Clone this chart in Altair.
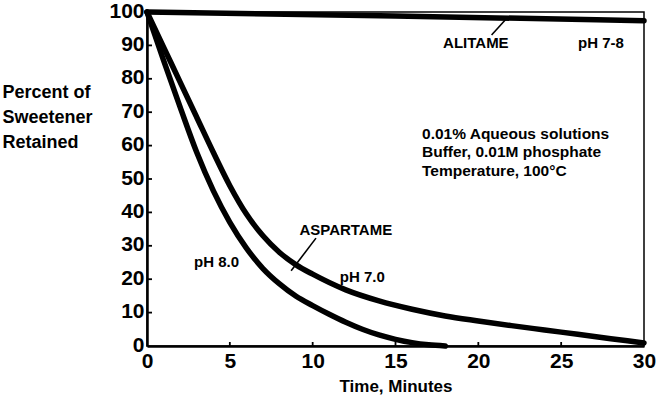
import altair as alt
import pandas as pd

# Sweetener stability at 100 °C, 0.01% aqueous solutions
minutes_ph7 = [0, 1, 2, 3, 4, 5, 6, 7, 8, 9, 10, 12, 14, 16, 18, 20, 22, 24, 26, 28, 30]
aspartame_ph7 = [100, 89.5, 79, 68.5, 58, 48, 39.5, 33, 28, 24.3, 21.5, 16.8, 13.5, 11.0, 9.0, 7.5, 6.1, 4.8, 3.5, 2.2, 0.9]

minutes_ph8 = [0, 1, 2, 3, 4, 5, 6, 7, 8, 9, 10, 11, 12, 13, 14, 15, 16, 17, 18]
aspartame_ph8 = [100, 85.5, 71.5, 58, 46.5, 37, 29.3, 23.2, 18.6, 14.9, 12.1, 9.5, 7.1, 5.0, 3.3, 2.0, 1.0, 0.35, 0]

minutes_alitame = [0, 15, 30]
alitame_ph78 = [100, 98.8, 97.4]

x_ticks = [0, 5, 10, 15, 20, 25, 30]
y_ticks = [0, 10, 20, 30, 40, 50, 60, 70, 80, 90, 100]

FONT = "Liberation Sans"

curves = pd.concat([
    pd.DataFrame({"t": minutes_ph7, "v": aspartame_ph7, "s": "aspartame pH 7.0"}),
    pd.DataFrame({"t": minutes_ph8, "v": aspartame_ph8, "s": "aspartame pH 8.0"}),
    pd.DataFrame({"t": minutes_alitame, "v": alitame_ph78, "s": "alitame pH 7-8"}),
])

x_scale = alt.Scale(domain=[0, 30], nice=False, zero=False)
y_scale = alt.Scale(domain=[0, 100], nice=False, zero=False)

x_axis = alt.Axis(
    values=x_ticks, title="Time, Minutes", ticks=False, grid=False,
    labelOverlap=False, labelFlush=False,
    domainColor="black", domainWidth=2.5,
    labelFont=FONT, labelFontSize=21, labelFontWeight="bold", labelColor="black",
    labelPadding=4, titleFont=FONT, titleFontSize=17, titleFontWeight="bold",
    titleColor="black", titlePadding=7)
y_axis = alt.Axis(
    values=y_ticks, title=["Percent of", "Sweetener", "Retained"], ticks=False, grid=False,
    labelOverlap=False, labelFlush=False,
    domainColor="black", domainWidth=2.5,
    labelFont=FONT, labelFontSize=21, labelFontWeight="bold", labelColor="black",
    labelPadding=3, labelBaseline="middle", labelOffset=-1,
    titleFont=FONT, titleFontSize=18, titleFontWeight="bold", titleColor="black",
    titleAngle=0, titleAlign="left", titleBaseline="alphabetic",
    titleX=-145, titleY=85, titleLineHeight=25)


def xq(field):
    return alt.X(field, scale=x_scale, axis=x_axis)


def yq(field):
    return alt.Y(field, scale=y_scale, axis=y_axis)


lines = alt.Chart(curves).mark_line(
    color="black", strokeWidth=5.5, interpolate="monotone", strokeCap="round"
).encode(x=xq("t:Q"), y=yq("v:Q"), detail="s:N")

# inward tick marks
xt = alt.Chart(pd.DataFrame({"t": x_ticks[1:-1]})).mark_rule(color="black", strokeWidth=1.8).encode(
    x=xq("t:Q"), y=alt.value(334), y2=alt.value(330))
yt = alt.Chart(pd.DataFrame({"v": y_ticks[1:-1]})).mark_rule(color="black", strokeWidth=1.8).encode(
    y=yq("v:Q"), x=alt.value(0), x2=alt.value(5))

# label pointers
pointer_t = [20.8, 10.2]
pointer_v = [93.1, 32.3]
pointer_t2 = [21.8, 8.7]
pointer_v2 = [98.6, 22.5]
pointers = alt.Chart(pd.DataFrame({"t": pointer_t, "v": pointer_v, "t2": pointer_t2, "v2": pointer_v2})).mark_rule(
    color="black", strokeWidth=1.6).encode(
    x=xq("t:Q"), y=yq("v:Q"), x2="t2:Q", y2="v2:Q")

label_text = ["ALITAME", "pH 7-8", "ASPARTAME", "pH 7.0", "pH 8.0"]
label_t = [19.85, 27.4, 12.0, 13.0, 4.2]
label_v = [90.7, 90.7, 34.7, 20.7, 25.1]
labels = alt.Chart(pd.DataFrame({"t": label_t, "v": label_v, "txt": label_text})).mark_text(
    font=FONT, fontSize=15, fontWeight="bold", color="black", align="center", baseline="middle"
).encode(x=xq("t:Q"), y=yq("v:Q"), text="txt:N")

note_text = ["0.01% Aqueous solutions", "Buffer, 0.01M phosphate", "Temperature, 100°C"]
note_t = [16.6, 16.6, 16.6]
note_v = [63.5, 58.0, 52.3]
notes = alt.Chart(pd.DataFrame({"t": note_t, "v": note_v, "txt": note_text})).mark_text(
    font=FONT, fontSize=15.5, fontWeight="bold", color="black", align="left", baseline="middle"
).encode(x=xq("t:Q"), y=yq("v:Q"), text="txt:N")

chart = alt.layer(lines, xt, yt, pointers, labels, notes).properties(
    width=497, height=334,
    autosize=alt.AutoSizeParams(type="none"),
    padding={"left": 147, "top": 12, "right": 14, "bottom": 56},
    background="white",
).configure_view(stroke="black", strokeWidth=1.5)

chart.save("out.html", embed_options={"renderer": "svg", "actions": False})
